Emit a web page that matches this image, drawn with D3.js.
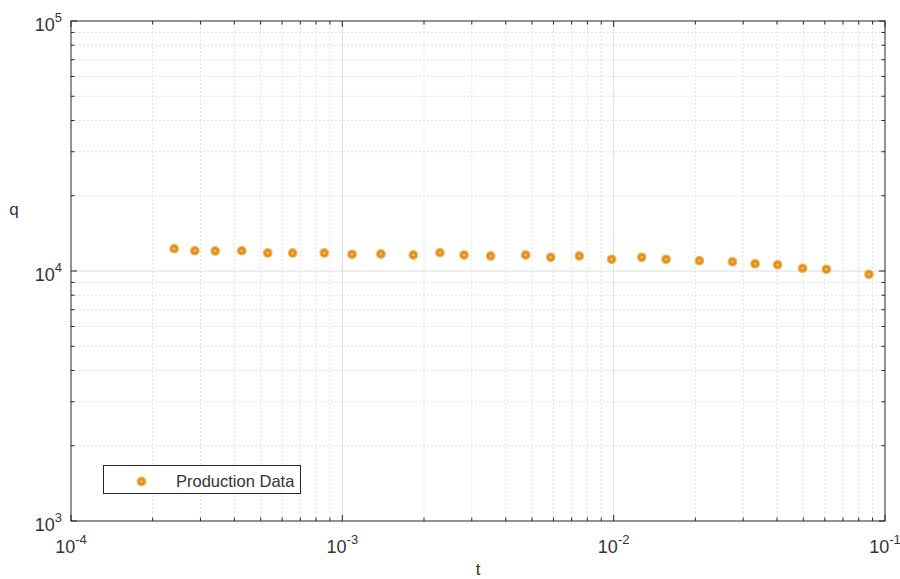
<!DOCTYPE html>
<html>
<head>
<meta charset="utf-8">
<script src="https://cdn.jsdelivr.net/npm/d3@7"></script>
<style>
  body { margin: 0; background: #fff; }
  svg text { font-family: "Liberation Sans", Arial, sans-serif; fill: #333; }
  .grid-major { stroke: #dcdcdc; stroke-width: 1; }
  .grid-minor { stroke: #e2e2e2; stroke-width: 1; stroke-dasharray: 2,2; }
  .box { fill: none; stroke: #262626; stroke-width: 1; }
  .tick-line { stroke: #262626; stroke-width: 1; }
</style>
</head>
<body>
<div id="chart"></div>
<script>
// data
var t_vals = [2.40e-4, 2.86e-4, 3.40e-4, 4.26e-4, 5.31e-4, 6.56e-4, 8.58e-4, 1.086e-3,
  1.388e-3, 1.827e-3, 2.29e-3, 2.81e-3, 3.52e-3, 4.74e-3, 5.86e-3, 7.47e-3, 9.83e-3,
  1.269e-2, 1.56e-2, 2.07e-2, 2.74e-2, 3.32e-2, 4.02e-2, 4.97e-2, 6.08e-2, 8.73e-2];
var q_vals = [12280, 12055, 12023, 12055, 11803, 11803, 11803, 11663, 11695, 11588,
  11836, 11588, 11482, 11588, 11345, 11482, 11138, 11345, 11138, 10995, 10895,
  10696, 10598, 10252, 10158, 9700];
var x_ticks = [1e-4, 1e-3, 1e-2, 1e-1];
var x_tick_labels = ["-4", "-3", "-2", "-1"];
var y_ticks = [1e3, 1e4, 1e5];
var y_tick_labels = ["3", "4", "5"];
var legend_label = "Production Data";

var width = 900, height = 579;
var margins = { top: 21, right: 15, bottom: 58, left: 71 };

var svg = d3.select("#chart").append("svg")
  .attr("width", width).attr("height", height);

var x = d3.scaleLog().domain([1e-4, 1e-1])
  .range([margins.left, width - margins.right]);
var y = d3.scaleLog().domain([1e3, 1e5])
  .range([height - margins.bottom, margins.top]);

// minor tick values 2..9 per decade
function minors(lo, hi) {
  var out = [];
  for (var e = lo; e < hi; e++) {
    for (var m = 2; m <= 9; m++) out.push(m * Math.pow(10, e));
  }
  return out;
}
var x_minor = minors(-4, -1);
var y_minor = minors(3, 5);

var x0 = x.range()[0], x1 = x.range()[1];
var y0 = y.range()[0], y1 = y.range()[1];

// grid
svg.selectAll(".gx-minor").data(x_minor).enter().append("line")
  .attr("class", "grid-minor")
  .attr("x1", d => x(d)).attr("x2", d => x(d)).attr("y1", y0).attr("y2", y1);
svg.selectAll(".gy-minor").data(y_minor).enter().append("line")
  .attr("class", "grid-minor")
  .attr("x1", x0).attr("x2", x1).attr("y1", d => y(d)).attr("y2", d => y(d));
svg.selectAll(".gx-major").data(x_ticks.slice(1, -1)).enter().append("line")
  .attr("class", "grid-major")
  .attr("x1", d => x(d)).attr("x2", d => x(d)).attr("y1", y0).attr("y2", y1);
svg.selectAll(".gy-major").data(y_ticks.slice(1, -1)).enter().append("line")
  .attr("class", "grid-major")
  .attr("x1", x0).attr("x2", x1).attr("y1", d => y(d)).attr("y2", d => y(d));

// ticks on all four sides, pointing in
var ticks = svg.append("g");
x_ticks.concat(x_minor).forEach(function (d) {
  var len = x_ticks.indexOf(d) >= 0 ? 6 : 3.5;
  ticks.append("line").attr("class", "tick-line")
    .attr("x1", x(d)).attr("x2", x(d)).attr("y1", y0).attr("y2", y0 - len);
  ticks.append("line").attr("class", "tick-line")
    .attr("x1", x(d)).attr("x2", x(d)).attr("y1", y1).attr("y2", y1 + len);
});
y_ticks.concat(y_minor).forEach(function (d) {
  var len = y_ticks.indexOf(d) >= 0 ? 6 : 3.5;
  ticks.append("line").attr("class", "tick-line")
    .attr("x1", x0).attr("x2", x0 + len).attr("y1", y(d)).attr("y2", y(d));
  ticks.append("line").attr("class", "tick-line")
    .attr("x1", x1).attr("x2", x1 - len).attr("y1", y(d)).attr("y2", y(d));
});

// box
svg.append("rect").attr("class", "box")
  .attr("x", x0).attr("y", y1).attr("width", x1 - x0).attr("height", y0 - y1);

// tick labels
x_ticks.forEach(function (d, i) {
  var tx = svg.append("text")
    .attr("x", x(d)).attr("y", y0 + 32)
    .attr("text-anchor", "middle")
    .style("font-size", "18px");
  tx.append("tspan").text("10");
  tx.append("tspan").attr("dy", -9).style("font-size", "13px").text(x_tick_labels[i]);
});
y_ticks.forEach(function (d, i) {
  var ty = svg.append("text")
    .attr("x", x0 - 9).attr("y", y(d) + 10)
    .attr("text-anchor", "end")
    .style("font-size", "18px");
  ty.append("tspan").text("10");
  ty.append("tspan").attr("dy", -9).style("font-size", "13px").text(y_tick_labels[i]);
});

// axis labels
svg.append("text").attr("x", (x0 + x1) / 2).attr("y", height - 4)
  .attr("text-anchor", "middle").style("font-size", "17px").text("t");
svg.append("text").attr("x", 14).attr("y", 215)
  .attr("text-anchor", "middle").style("font-size", "17px").text("q");

// markers
function marker(g, cx, cy) {
  g.append("circle").attr("cx", cx).attr("cy", cy).attr("r", 4.3)
    .attr("fill", "#e38f1c").attr("stroke", "#f0b860").attr("stroke-width", 1.2);
  g.append("circle").attr("cx", cx).attr("cy", cy).attr("r", 1.2)
    .attr("fill", "#f6c77a");
}
var pts = svg.append("g");
t_vals.forEach(function (t, i) { marker(pts, x(t), y(q_vals[i])); });

// legend
var leg = svg.append("g");
leg.append("rect").attr("x", 103.5).attr("y", 465.5).attr("width", 197).attr("height", 28)
  .attr("fill", "#fff").attr("stroke", "#262626").attr("stroke-width", 1);
marker(leg, 141.5, 481.5);
leg.append("text").attr("x", 176).attr("y", 487)
  .style("font-size", "16.5px").text(legend_label);
</script>
</body>
</html>
